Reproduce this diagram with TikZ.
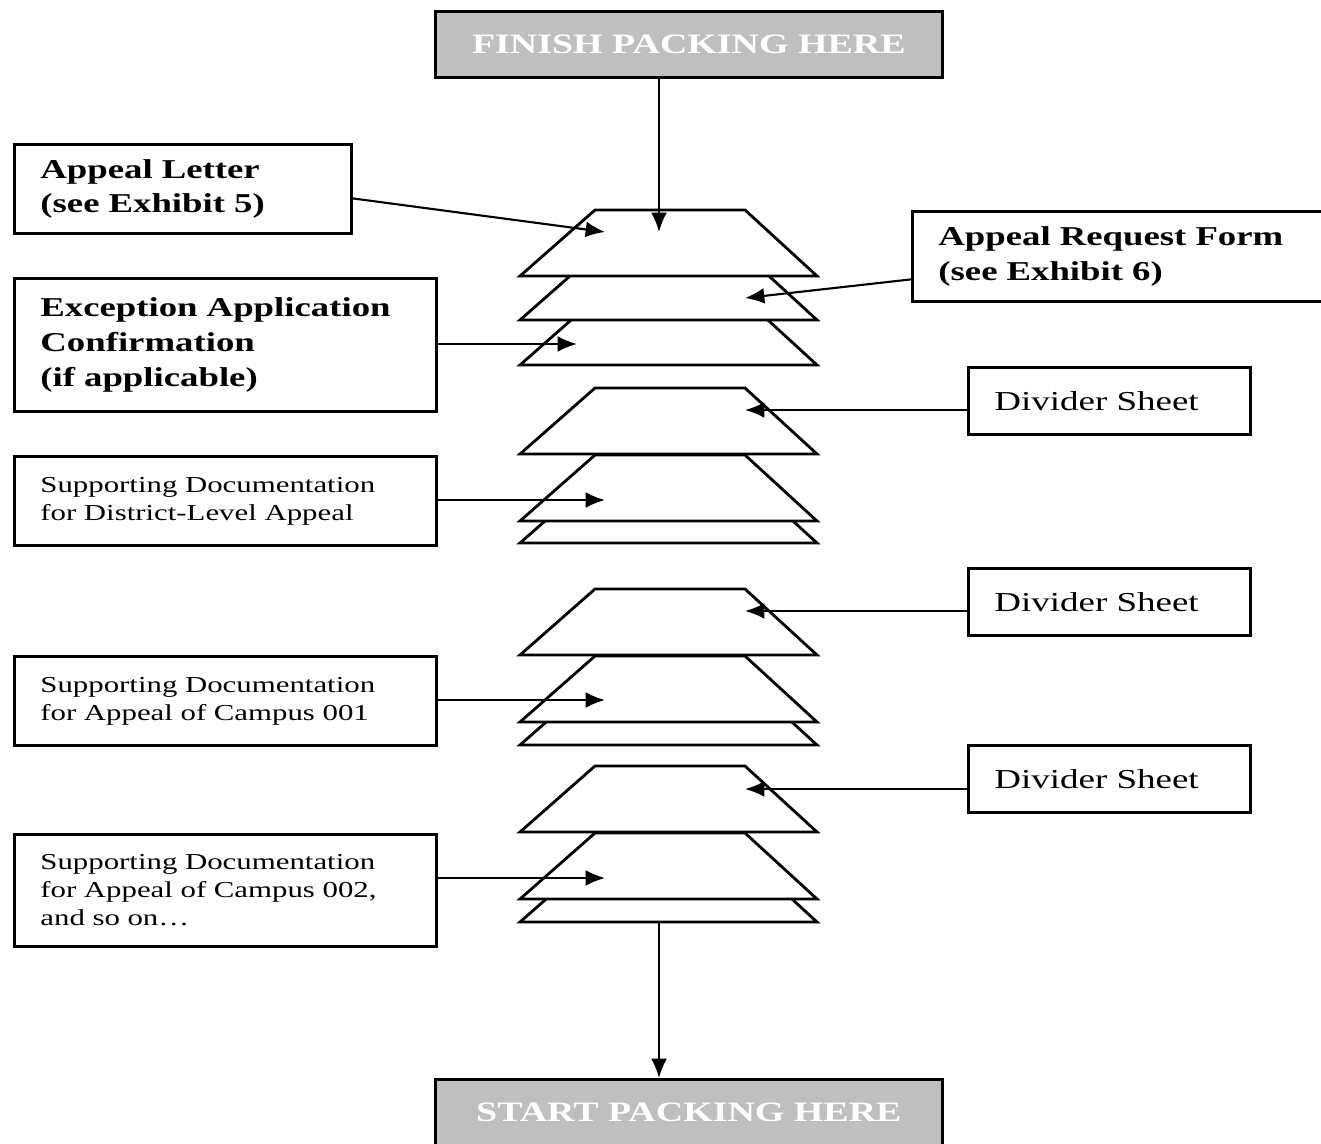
\documentclass[tikz,border=0pt]{standalone}
\usepackage{fontspec}
\setmainfont{Liberation Serif}[FakeStretch=1.35]
\usetikzlibrary{arrows.meta}

\tikzset{
  box/.style={draw, line width=1.6pt, fill=white, anchor=north west,
    inner xsep=0.52cm, align=left},
  boldtxt/.style={font=\fontsize{15.5}{19.8}\selectfont\bfseries},
  plaintxt/.style={font=\fontsize{13}{15.9}\selectfont},
  divtxt/.style={font=\fontsize{15.6}{18}\selectfont},
  endbox/.style={draw, line width=1.6pt, fill=black!25, anchor=north west,
    text=white, font=\fontsize{16}{18}\selectfont\bfseries,
    minimum width=10.14cm, minimum height=1.32cm},
  sheet/.style={line width=1.6pt, fill=white, line join=miter},
  arr/.style={line width=1.2pt, -{Latex[length=11pt,width=9pt]}}
}

\newcommand{\sheet}[1]{\filldraw[sheet] (520,#1) -- (595,#1-66) -- (745,#1-66) -- (817,#1) -- cycle;}

\begin{document}
\begin{tikzpicture}[x=0.02cm, y=-0.02cm]
  \useasboundingbox (0,0) rectangle (1321,1143);

  % paper stacks, drawn from the bottom sheet upward
  \foreach \b in {365,320,276, 543,521,454, 745,722,655, 922,899,832}
    {\sheet{\b}}

  % start and finish
  \node[endbox] (finish) at (434,10) {FINISH PACKING HERE};
  \node[endbox] (start) at (434,1078) {START PACKING HERE};

  % left hand boxes
  \node[box, boldtxt, text width=5.7cm, minimum height=1.78cm] (letter) at (13,143)
    {Appeal Letter\\(see Exhibit 5)};
  \node[box, boldtxt, text width=7.4cm, minimum height=2.66cm] (exception) at (13,277)
    {Exception Application\\Confirmation\\(if applicable)};
  \node[box, plaintxt, text width=7.4cm, minimum height=1.78cm] (district) at (13,455)
    {Supporting Documentation\\for District-Level Appeal};
  \node[box, plaintxt, text width=7.4cm, minimum height=1.78cm] (campA) at (13,655)
    {Supporting Documentation\\for Appeal of Campus 001};
  \node[box, plaintxt, text width=7.4cm, minimum height=2.24cm] (campB) at (13,833)
    {Supporting Documentation\\for Appeal of Campus 002,\\and so on\dots};

  % right hand boxes
  \node[box, boldtxt, text width=7.3cm, minimum height=1.8cm] (request) at (911,210)
    {Appeal Request Form\\(see Exhibit 6)};
  \node[box, divtxt, text width=4.6cm, minimum height=1.34cm] (divA) at (967,366) {Divider Sheet};
  \node[box, divtxt, text width=4.6cm, minimum height=1.34cm] (divB) at (967,567) {Divider Sheet};
  \node[box, divtxt, text width=4.6cm, minimum height=1.34cm] (divC) at (967,744) {Divider Sheet};

  % where the arrows land
  \coordinate (tipTop) at (659,232);
  \coordinate (baseBot) at (659,922);
  \coordinate (tipLetter) at (605,232);
  \coordinate (tipRequest) at (745,298);
  \coordinate (tipExc) at (577,344);
  \coordinate (tipDivA) at (745,410);
  \coordinate (tipDist) at (605,500);
  \coordinate (tipDivB) at (745,611);
  \coordinate (tipCampA) at (605,700);
  \coordinate (tipDivC) at (745,789);
  \coordinate (tipCampB) at (605,878);

  \draw[arr] (tipTop |- finish.south) -- (tipTop);
  \draw[arr] (baseBot) -- (baseBot |- start.north);
  \draw[arr] ([yshift=-0.19cm]letter.east) -- (tipLetter);
  \draw[arr] ([yshift=-0.46cm]request.west) -- (tipRequest);
  \draw[arr] (exception.east |- tipExc) -- (tipExc);
  \draw[arr] (divA.west |- tipDivA) -- (tipDivA);
  \draw[arr] (district.east |- tipDist) -- (tipDist);
  \draw[arr] (divB.west |- tipDivB) -- (tipDivB);
  \draw[arr] (campA.east |- tipCampA) -- (tipCampA);
  \draw[arr] (divC.west |- tipDivC) -- (tipDivC);
  \draw[arr] (campB.east |- tipCampB) -- (tipCampB);
\end{tikzpicture}
\end{document}
